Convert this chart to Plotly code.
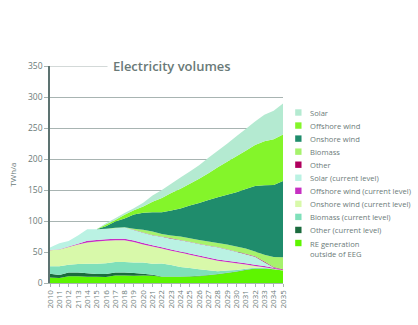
import plotly.graph_objects as go

years = list(range(2010, 2036))
tick_labels = ["2010", "2011", "2012", "2113", "2014", "2015", "2016", "2017", "2018",
               "2019", "2020", "2021", "2022", "2023", "2024", "2025", "2026", "2027",
               "2028", "2029", "2030", "2031", "2032", "2033", "2034", "2035"]

# TWh/a, stacked bottom -> top
re_outside_eeg = [9, 8, 11, 11, 10, 10, 9.5, 12, 12, 11.5, 12, 11.5, 10, 10, 10, 10.5,
                  11, 12.5, 14, 16, 18, 21, 23, 23, 22, 20]
other_cl = [6, 5, 6, 6, 5.6, 4.5, 5, 5, 5, 4.5, 3, 2, 0.5, 0.5, 0.5, 0.5,
            0.5, 0.5, 0.5, 0.5, 0.5, 0.5, 0.5, 0.5, 0.2, 0.2]
biomass_cl = [12, 14, 12.6, 13.5, 15.4, 16.5, 17.5, 17, 17, 17, 18, 17.5, 21, 18.5, 15.5, 13,
              10.5, 7.5, 4.5, 3.5, 2.5, 1.5, 1, 1, 0.3, 0.1]
onshore_cl = [26, 27, 28.4, 31.5, 34.5, 36, 36, 35, 35, 33, 29, 28, 24, 23, 23, 21.5,
              20.5, 18.5, 17, 14, 11, 7, 3, 1, 0.5, 0.2]
offshore_cl = [0.3, 0.5, 0.8, 1.5, 2.5, 2.5, 2.5, 2.5, 2.5, 2.5, 2.5, 2, 2, 2, 2, 2,
               2, 2, 2, 2, 2, 2, 2, 2, 1.5, 1]
solar_cl = [4, 9.5, 9, 13, 18.6, 17, 16.5, 17, 18, 17, 16.5, 16, 17, 17.5, 18, 18.5,
            18.5, 19, 19.5, 18, 16.5, 14.5, 13, 6, 0.5, 0]
other = [0, 0, 0, 0, 0, 0, 0, 0, 0, 0.2, 0.5, 0.5, 0.5, 0.5, 0.5, 0.5,
         0.5, 0.5, 0.5, 0.5, 0.5, 0.5, 0.5, 1, 1, 0.5]
biomass = [0, 0, 0, 0, 0, 0, 0.5, 0.5, 0.5, 1.8, 4.5, 5.5, 4, 4.5, 5.5, 5.5,
           6, 6.5, 6.5, 7.5, 8, 8.5, 8, 11, 16, 19.5]
onshore = [0, 0, 0, 0, 0, 0, 4, 10, 14, 23, 27.5, 31, 35, 40.5, 45, 53,
           59.5, 67, 74, 80.5, 87.5, 96, 105.5, 112, 116, 123]
offshore = [0, 0, 0, 0, 0, 0, 3, 2.5, 6, 7, 10, 17, 23, 28, 32, 35,
            39, 43, 48, 53, 58, 62, 66, 71, 74, 75]
solar = [0, 0, 0, 0, 0, 0, 2, 3, 3, 3, 6, 10, 13, 15, 18, 20,
         22, 25, 27, 29, 32, 35, 38, 43, 46, 50]

series_names = ["RE generation<br>outside of EEG", "Other (current level)",
                "Biomass (current level)", "Onshore wind (current level)",
                "Offshore wind (current level)", "Solar (current level)", "Other",
                "Biomass", "Onshore wind", "Offshore wind", "Solar"]
series_values = [re_outside_eeg, other_cl, biomass_cl, onshore_cl, offshore_cl, solar_cl,
                 other, biomass, onshore, offshore, solar]
series_colors = ["#5ef500", "#1b6b3e", "#7fe0ba", "#d8f9aa", "#c62fc2", "#baf2e3",
                 "#b0005e", "#a6f26c", "#1f8c6c", "#84f52a", "#b4ead1"]

text_col = "#6b7b79"
grid_col = "#a8b4b2"
font_family = "Open Sans"

# plot area in pixels
L, R, T, B = 44, 283, 66, 283
W, H = 418, 325
pw, ph = R - L, B - T


def px_x(px):
    return (px - L) / pw


def px_y(py):
    return (B - py) / ph


fig = go.Figure()
for name, vals, col in zip(series_names, series_values, series_colors):
    fig.add_trace(go.Scatter(
        x=years, y=vals, stackgroup="one", mode="none", name=name.replace("<br>", " "),
        fillcolor=col, line=dict(width=0), showlegend=False, hoverinfo="skip"))

shapes = [dict(type="line", xref="paper", yref="y", x0=0, x1=px_x(103), y0=350, y1=350,
               line=dict(color=grid_col, width=1), layer="above")]
annotations = [dict(text="Electricity volumes", xref="paper", yref="paper",
                    x=px_x(169), y=px_y(66), xanchor="center", yanchor="middle",
                    showarrow=False,
                    font=dict(size=13, color="#6a7a78", family="Open Sans Semibold, Open Sans"))]

# legend (top entry = top of stack)
leg_top = 112.5
leg_step = 13.05
for i, (name, col) in enumerate(zip(reversed(series_names), reversed(series_colors))):
    cy = leg_top + i * leg_step
    shapes.append(dict(type="rect", xref="paper", yref="paper",
                       x0=px_x(295.5), x1=px_x(302), y0=px_y(cy - 3.2), y1=px_y(cy + 3.2),
                       fillcolor=col, line=dict(width=0)))
    annotations.append(dict(text=name, xref="paper", yref="paper",
                            x=px_x(308.5), y=px_y(cy - 6.5), xanchor="left", yanchor="top",
                            align="left", showarrow=False,
                            font=dict(size=7.6, color=text_col, family=font_family)))

fig.update_layout(
    width=W, height=H,
    margin=dict(l=L, r=W - R, t=T, b=H - B),
    paper_bgcolor="white", plot_bgcolor="white",
    font=dict(family=font_family, color=text_col, size=8),
    showlegend=False,
    xaxis=dict(range=[2010, 2035], tickmode="array", tickvals=years, ticktext=tick_labels,
               tickangle=-90, showgrid=False, zeroline=False,
               showline=True, linecolor=grid_col, linewidth=1,
               ticks="outside", ticklen=3, tickcolor=grid_col,
               tickfont=dict(size=8, color=text_col), layer="above traces"),
    yaxis=dict(range=[0, 350], tickvals=[0, 50, 100, 150, 200, 250, 300, 350],
               showgrid=True, gridcolor=grid_col, gridwidth=1, zeroline=False,
               showline=True, linecolor="#5d7371", linewidth=1.5,
               ticks="outside", ticklen=4, tickcolor=grid_col,
               tickfont=dict(size=8.5, color=text_col), layer="above traces",
               title=dict(text="TWh/a", font=dict(size=8, color=text_col), standoff=10)),
    shapes=shapes,
    annotations=annotations,
)

fig.write_html("out.html")
